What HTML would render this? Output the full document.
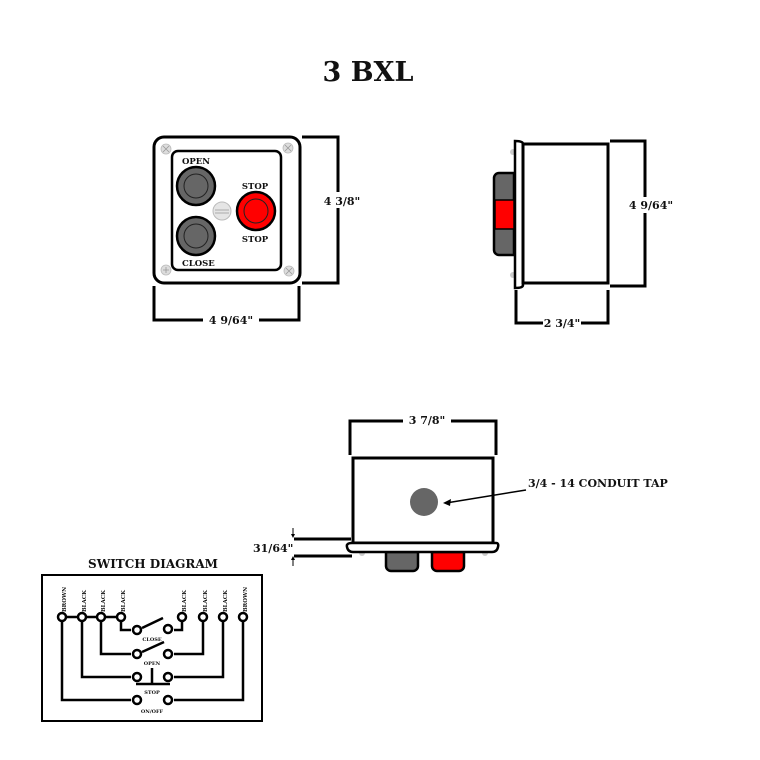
<!DOCTYPE html>
<html><head><meta charset="utf-8"><style>
html,body{margin:0;padding:0;background:#fff}
svg{display:block}
text{font-family:"DejaVu Serif","Liberation Serif",serif;font-weight:bold;fill:#111}
</style></head><body>
<svg width="760" height="760" viewBox="0 0 760 760" xmlns="http://www.w3.org/2000/svg">
<text x="368" y="81" font-size="27" text-anchor="middle">3 BXL</text>

<!-- FRONT VIEW -->
<rect x="154" y="137" width="146" height="146" rx="10" fill="#fff" stroke="#000" stroke-width="3"/>
<rect x="172" y="151" width="109" height="119" rx="6" fill="#fff" stroke="#000" stroke-width="2.5"/>
<g fill="#ddd" stroke="#bbb" stroke-width="0.8">
<circle cx="166" cy="149" r="5"/><circle cx="288" cy="148" r="5"/>
<circle cx="166" cy="270" r="5"/><circle cx="289" cy="271" r="5"/>
</g>
<g stroke="#999" stroke-width="0.8">
<path d="M163 146l6 6M169 146l-6 6M285 145l6 6M291 145l-6 6M163 270h6M166 267v6M286 268l6 6M292 268l-6 6"/>
</g>
<circle cx="196" cy="186" r="19" fill="#666" stroke="#000" stroke-width="2.5"/>
<circle cx="196" cy="186" r="12" fill="none" stroke="#222" stroke-width="1"/>
<circle cx="196" cy="236" r="19" fill="#666" stroke="#000" stroke-width="2.5"/>
<circle cx="196" cy="236" r="12" fill="none" stroke="#222" stroke-width="1"/>
<circle cx="222" cy="211" r="9" fill="#e5e5e5" stroke="#bbb" stroke-width="1"/>
<path d="M215 210h14M215 213h14" stroke="#aaa" stroke-width="1"/>
<circle cx="256" cy="211" r="19" fill="#f00" stroke="#000" stroke-width="2.5"/>
<circle cx="256" cy="211" r="12" fill="none" stroke="#222" stroke-width="1"/>
<text x="182" y="164" font-size="8.5">OPEN</text>
<text x="182" y="266" font-size="8.5">CLOSE</text>
<text x="255" y="189" font-size="8.5" text-anchor="middle">STOP</text>
<text x="255" y="242" font-size="8.5" text-anchor="middle">STOP</text>
<path d="M302 137H338V283H302" fill="none" stroke="#000" stroke-width="3"/>
<rect x="318" y="192" width="48" height="16" fill="#fff"/>
<text x="342" y="205" font-size="11" text-anchor="middle">4  3/8"</text>
<path d="M154 286V320H299V286" fill="none" stroke="#000" stroke-width="3"/>
<rect x="203" y="313" width="56" height="14" fill="#fff"/>
<text x="231" y="324" font-size="11" text-anchor="middle">4  9/64"</text>

<!-- SIDE VIEW -->
<circle cx="513" cy="152" r="3" fill="#ccc"/><circle cx="513" cy="275" r="3" fill="#ccc"/>
<path d="M499 173h15v82h-15a5 5 0 0 1-5-5v-72a5 5 0 0 1 5-5z" fill="#666" stroke="#000" stroke-width="2.5"/>
<rect x="495" y="200" width="19" height="29" fill="#f00" stroke="#000" stroke-width="1.5"/>
<path d="M515 141q8 0 8 3v141q0 3-8 3z" fill="#fff" stroke="#000" stroke-width="2.5"/>
<rect x="523" y="144" width="85" height="139" fill="#fff" stroke="#000" stroke-width="3"/>
<path d="M610 141H645V286H610" fill="none" stroke="#000" stroke-width="3"/>
<rect x="625" y="197" width="52" height="16" fill="#fff"/>
<text x="651" y="209" font-size="11" text-anchor="middle">4  9/64"</text>
<path d="M516 290V323H608V290" fill="none" stroke="#000" stroke-width="3"/>
<rect x="543" y="316" width="38" height="14" fill="#fff"/>
<text x="562" y="327" font-size="11" text-anchor="middle">2 3/4"</text>

<!-- BOTTOM VIEW -->
<path d="M350 455V421H496V455" fill="none" stroke="#000" stroke-width="3"/>
<rect x="403" y="413" width="48" height="14" fill="#fff"/>
<text x="427" y="424" font-size="11" text-anchor="middle">3 7/8"</text>
<rect x="353" y="458" width="140" height="85" fill="#fff" stroke="#000" stroke-width="3"/>
<circle cx="424" cy="502" r="14" fill="#666"/>
<path d="M526 490Q490 496 446 503" fill="none" stroke="#000" stroke-width="1.5"/>
<path d="M443 503l8-4-1 7z" fill="#000"/>
<text x="528" y="487" font-size="11">3/4 - 14 CONDUIT TAP</text>
<circle cx="362" cy="553" r="3" fill="#ccc"/><circle cx="485" cy="553" r="3" fill="#ccc"/>
<path d="M386 552h32v14a5 5 0 0 1-5 5h-22a5 5 0 0 1-5-5z" fill="#666" stroke="#000" stroke-width="2.5"/>
<path d="M432 552h32v14a5 5 0 0 1-5 5h-22a5 5 0 0 1-5-5z" fill="#f00" stroke="#000" stroke-width="2.5"/>
<path d="M352 543h144q3 0 2 4q-1 5-6 5h-139q-5 0-6-5q-1-4 5-4z" fill="#fff" stroke="#000" stroke-width="2.5"/>
<path d="M294 539H351M294 556H352" stroke="#000" stroke-width="3"/>
<path d="M293 528v8M293 558v8" stroke="#000" stroke-width="1"/>
<path d="M291 534l2 4 2-4zM291 560l2-4 2 4z" fill="#000"/>
<text x="253" y="552" font-size="11">31/64"</text>

<!-- SWITCH DIAGRAM -->
<text x="153" y="568" font-size="12" text-anchor="middle">SWITCH DIAGRAM</text>
<rect x="42" y="575" width="220" height="146" fill="#fff" stroke="#000" stroke-width="2"/>
<g fill="none" stroke="#000" stroke-width="2.5">
<path d="M62 617H121"/>
<path d="M121 617V630H131M182 617V630H174"/>
<path d="M101 617V654H131M203 617V654H174"/>
<path d="M82 617V677H131M223 617V677H174"/>
<path d="M62 617V700H131M243 617V700H174"/>
<path d="M142 628L163 618M142 652L164 642"/>
<path d="M136 684H170M152 668V684"/>
</g>
<g fill="#fff" stroke="#000" stroke-width="2.5">
<circle cx="62" cy="617" r="4"/><circle cx="82" cy="617" r="4"/><circle cx="101" cy="617" r="4"/><circle cx="121" cy="617" r="4"/>
<circle cx="182" cy="617" r="4"/><circle cx="203" cy="617" r="4"/><circle cx="223" cy="617" r="4"/><circle cx="243" cy="617" r="4"/>
<circle cx="137" cy="630" r="4"/><circle cx="168" cy="629" r="4"/>
<circle cx="137" cy="654" r="4"/><circle cx="168" cy="654" r="4"/>
<circle cx="137" cy="677" r="4"/><circle cx="168" cy="677" r="4"/>
<circle cx="137" cy="700" r="4"/><circle cx="168" cy="700" r="4"/>
</g>
<g font-size="5.5">
<text transform="translate(66,612) rotate(-90)">BROWN</text>
<text transform="translate(86,612) rotate(-90)">BLACK</text>
<text transform="translate(105,612) rotate(-90)">BLACK</text>
<text transform="translate(125,612) rotate(-90)">BLACK</text>
<text transform="translate(186,612) rotate(-90)">BLACK</text>
<text transform="translate(207,612) rotate(-90)">BLACK</text>
<text transform="translate(227,612) rotate(-90)">BLACK</text>
<text transform="translate(247,612) rotate(-90)">BROWN</text>
</g>
<g font-size="5" text-anchor="middle">
<text x="152" y="641">CLOSE</text>
<text x="152" y="665">OPEN</text>
<text x="152" y="694">STOP</text>
<text x="152" y="713">ON/OFF</text>
</g>
</svg>
</body></html>
